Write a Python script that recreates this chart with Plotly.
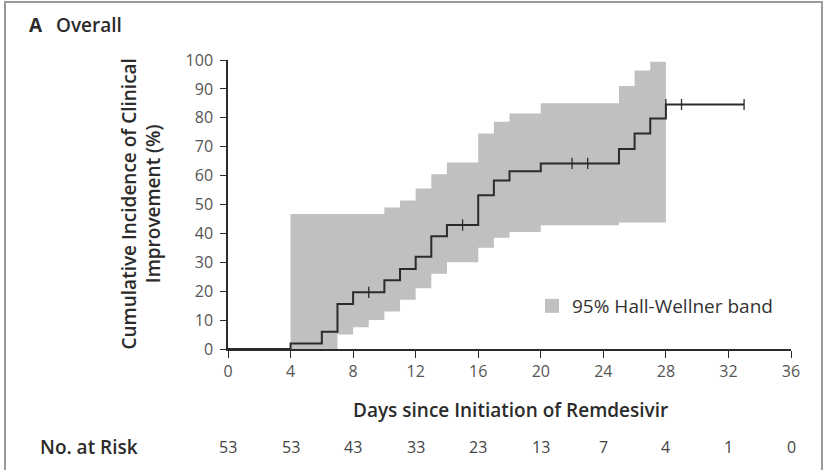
import plotly.graph_objects as go

# ---- data ----
curve_days = [0, 4, 6, 7, 8, 10, 11, 12, 13, 14, 16, 17, 18, 20, 25, 26, 27, 28, 33]
curve_pct = [0, 1.9, 6.0, 15.6, 19.6, 23.8, 27.7, 31.9, 39.0, 42.9, 53.2, 58.3, 61.5, 64.2, 69.2, 74.6, 79.8, 84.6, 84.6]

censor_days = [9, 15, 22, 23, 28, 29, 33]
censor_pct = [19.6, 42.9, 64.2, 64.2, 84.6, 84.6, 84.6]

band_days = [4, 7, 8, 9, 10, 11, 12, 13, 14, 16, 17, 18, 20, 25, 26, 27, 28]
band_upper = [46.7, 46.7, 46.7, 46.7, 49.0, 51.4, 55.5, 60.5, 64.5, 74.6, 78.6, 81.5, 85.0, 91.0, 96.4, 99.4, 99.4]
band_lower = [0, 5.0, 7.5, 10.0, 13.0, 17.0, 21.0, 26.0, 30.0, 35.0, 38.5, 40.5, 42.8, 43.8, 43.8, 43.8, 43.8]

risk_days = [0, 4, 8, 12, 16, 20, 24, 28, 32, 36]
risk_counts = [53, 53, 43, 33, 23, 13, 7, 4, 1, 0]

x_ticks = [0, 4, 8, 12, 16, 20, 24, 28, 32, 36]
y_ticks = [0, 10, 20, 30, 40, 50, 60, 70, 80, 90, 100]

band_label = "95% Hall-Wellner band"

FONT = "Open Sans"
BAND = "#c0c0c0"
INK = "#2b2b2b"
TICK = "#555555"

fig = go.Figure()
fig.add_trace(go.Scatter(x=band_days, y=band_lower, mode="lines", line=dict(width=0, shape="hv"),
                         showlegend=False, hoverinfo="skip", legendgroup="band"))
fig.add_trace(go.Scatter(x=band_days, y=band_upper, mode="lines", line=dict(width=0, shape="hv"),
                         fill="tonexty", fillcolor=BAND, showlegend=False, legendgroup="band",
                         name=band_label))
# legend entry for the band (square swatch)
fig.add_trace(go.Scatter(x=[None], y=[None], mode="markers", legendgroup="band", name=band_label,
                         marker=dict(symbol="square", size=14, color=BAND)))
fig.add_trace(go.Scatter(x=curve_days, y=curve_pct, mode="lines", line=dict(color=INK, width=2, shape="hv"),
                         showlegend=False))
fig.add_trace(go.Scatter(x=censor_days, y=censor_pct, mode="markers",
                         marker=dict(symbol="line-ns-open", size=8, color=INK, line=dict(color=INK, width=1.3)),
                         showlegend=False))

L, R, T, B = 228, 34, 60, 121
W, H = 825, 470
pw, ph = W - L - R, H - T - B

def px_x(p):
    return (p - L) / pw

def px_y(p):
    return (H - B - p) / ph

TITLE_FONT = dict(family=FONT, size=19, color=INK, weight=600)

for d, n in zip(risk_days, risk_counts):
    fig.add_annotation(x=d, y=px_y(447), xref="x", yref="paper", text=str(n), showarrow=False,
                       xanchor="center", yanchor="middle",
                       font=dict(family=FONT, size=16, color="#444"))

fig.add_annotation(x=px_x(38), y=px_y(447), xref="paper", yref="paper", xanchor="left", yanchor="middle",
                   text="No. at Risk", showarrow=False, font=TITLE_FONT)
fig.add_annotation(x=px_x(510), y=px_y(410), xref="paper", yref="paper", xanchor="center", yanchor="middle",
                   text="Days since Initiation of Remdesivir", showarrow=False, font=TITLE_FONT)
fig.add_annotation(x=px_x(141), y=0.5, xref="paper", yref="paper", textangle=-90,
                   xanchor="center", yanchor="middle",
                   text="Cumulative Incidence of Clinical<br>Improvement (%)", showarrow=False,
                   font=TITLE_FONT)
fig.add_annotation(x=px_x(27), y=px_y(25), xref="paper", yref="paper", xanchor="left", yanchor="middle",
                   text="<b>A</b>", showarrow=False, font=TITLE_FONT)
fig.add_annotation(x=px_x(54), y=px_y(25), xref="paper", yref="paper", xanchor="left", yanchor="middle",
                   text="Overall", showarrow=False, font=TITLE_FONT)

fig.add_shape(type="rect", xref="paper", yref="paper", x0=px_x(5), x1=px_x(822), y0=px_y(485), y1=px_y(2),
              line=dict(color="#9a9a9a", width=2))

fig.update_layout(
    width=W, height=H, margin=dict(l=L, r=R, t=T, b=B),
    paper_bgcolor="white", plot_bgcolor="white",
    font=dict(family=FONT, size=15, color=TICK),
    showlegend=True,
    legend=dict(x=px_x(532), y=px_y(306), xanchor="left", yanchor="middle", bgcolor="rgba(0,0,0,0)",
                font=dict(family=FONT, size=19, color="#333"), itemwidth=30),
    xaxis=dict(range=[0, 36], tickvals=x_ticks, ticks="outside", ticklen=7, tickcolor=INK,
               showline=True, linecolor=INK, linewidth=1.5, showgrid=False, zeroline=False,
               tickfont=dict(family=FONT, size=16, color=TICK)),
    yaxis=dict(range=[0, 100], tickvals=y_ticks, ticks="outside", ticklen=6, tickcolor=INK,
               showline=True, linecolor=INK, linewidth=1.5, showgrid=False, zeroline=False,
               ticklabelstandoff=4,
               tickfont=dict(family=FONT, size=16, color=TICK)),
)

fig.write_html("out.html", config={"displayModeBar": False},
               post_script="document.body.style.margin='0';")
